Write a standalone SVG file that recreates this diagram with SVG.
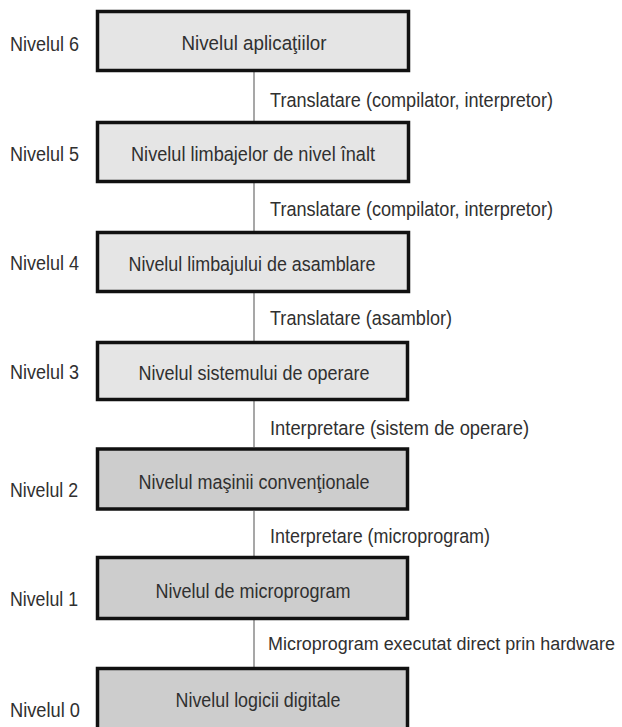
<svg xmlns="http://www.w3.org/2000/svg" width="622" height="727" viewBox="0 0 622 727">
<style>
text{font-family:"Liberation Sans",Arial,sans-serif;font-size:20.5px;fill:#303030}
.box{stroke:#111;stroke-width:3.5}
.light{fill:#e5e5e5}
.dark{fill:#cdcdcd}
.lvl{text-anchor:start}
.in{text-anchor:middle}
.con{stroke:#8a8a8a;stroke-width:1.5;fill:none}
.long{font-size:18px}
</style>
<rect width="622" height="727" fill="#ffffff"/>
<g id="connectors">
<line class="con" x1="254" y1="72" x2="254" y2="121"/>
<line class="con" x1="254" y1="183" x2="254" y2="231"/>
<line class="con" x1="254" y1="293" x2="254" y2="341"/>
<line class="con" x1="254" y1="401" x2="254" y2="447"/>
<line class="con" x1="254" y1="511" x2="254" y2="556"/>
<line class="con" x1="254" y1="620" x2="254" y2="667"/>
<text x="270" y="107" textLength="283" lengthAdjust="spacingAndGlyphs">Translatare (compilator, interpretor)</text>
<text x="270" y="216" textLength="283" lengthAdjust="spacingAndGlyphs">Translatare (compilator, interpretor)</text>
<text x="270" y="325" textLength="182" lengthAdjust="spacingAndGlyphs">Translatare (asamblor)</text>
<text x="270" y="435" textLength="259" lengthAdjust="spacingAndGlyphs">Interpretare (sistem de operare)</text>
<text x="270" y="543" textLength="220" lengthAdjust="spacingAndGlyphs">Interpretare (microprogram)</text>
<text class="long" x="268" y="650" textLength="347" lengthAdjust="spacingAndGlyphs">Microprogram executat direct prin hardware</text>
</g>
<g id="level6">
<rect class="box light" x="97.5" y="11.5" width="311" height="59"/>
<text class="in" x="254" y="50" textLength="145" lengthAdjust="spacingAndGlyphs">Nivelul aplicaţiilor</text>
<text class="lvl" x="10" y="51" textLength="69" lengthAdjust="spacingAndGlyphs">Nivelul 6</text>
</g>
<g id="level5">
<rect class="box light" x="97.5" y="122.5" width="311" height="59"/>
<text class="in" x="253" y="161" textLength="244" lengthAdjust="spacingAndGlyphs">Nivelul limbajelor de nivel înalt</text>
<text class="lvl" x="10" y="161" textLength="69" lengthAdjust="spacingAndGlyphs">Nivelul 5</text>
</g>
<g id="level4">
<rect class="box light" x="97.5" y="232.5" width="311" height="59"/>
<text class="in" x="252" y="271" textLength="247" lengthAdjust="spacingAndGlyphs">Nivelul limbajului de asamblare</text>
<text class="lvl" x="10" y="270" textLength="69" lengthAdjust="spacingAndGlyphs">Nivelul 4</text>
</g>
<g id="level3">
<rect class="box light" x="97.5" y="342.5" width="310" height="57"/>
<text class="in" x="254" y="380" textLength="231" lengthAdjust="spacingAndGlyphs">Nivelul sistemului de operare</text>
<text class="lvl" x="10" y="379" textLength="69" lengthAdjust="spacingAndGlyphs">Nivelul 3</text>
</g>
<g id="level2">
<rect class="box dark" x="97.5" y="449" width="310" height="60"/>
<text class="in" x="254" y="489" textLength="231" lengthAdjust="spacingAndGlyphs">Nivelul maşinii convenţionale</text>
<text class="lvl" x="10" y="497" textLength="68" lengthAdjust="spacingAndGlyphs">Nivelul 2</text>
</g>
<g id="level1">
<rect class="box dark" x="97.5" y="557.5" width="310" height="61"/>
<text class="in" x="253" y="598" textLength="195" lengthAdjust="spacingAndGlyphs">Nivelul de microprogram</text>
<text class="lvl" x="10" y="606" textLength="68" lengthAdjust="spacingAndGlyphs">Nivelul 1</text>
</g>
<g id="level0">
<rect class="box dark" x="97.5" y="668.5" width="310" height="75"/>
<text class="in" x="258" y="707" textLength="165" lengthAdjust="spacingAndGlyphs">Nivelul logicii digitale</text>
<text class="lvl" x="10" y="717" textLength="70" lengthAdjust="spacingAndGlyphs">Nivelul 0</text>
</g>
</svg>
